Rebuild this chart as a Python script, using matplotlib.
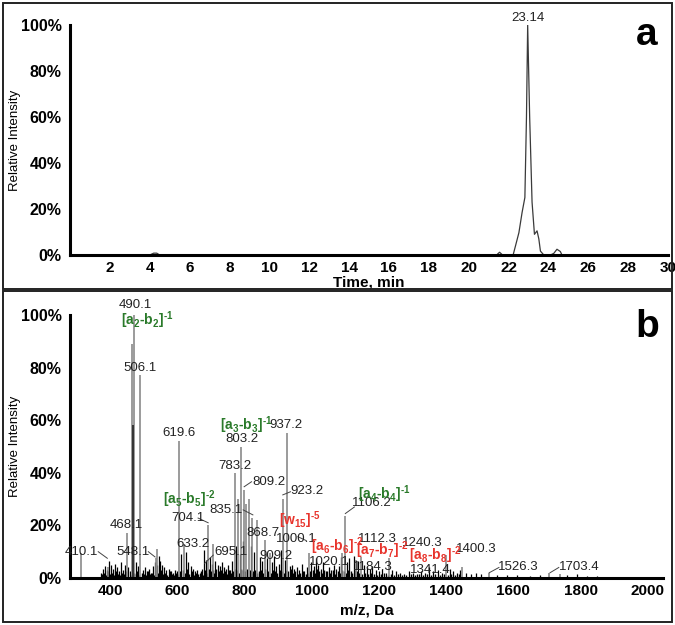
import matplotlib.pyplot as plt
from matplotlib.patches import Rectangle

plt.rcParams["font.family"] = ["Liberation Sans", "DejaVu Sans"]
plt.rcParams["mathtext.fontset"] = "custom"
plt.rcParams["mathtext.rm"] = "Liberation Sans"
plt.rcParams["mathtext.bf"] = "Liberation Sans:bold"
plt.rcParams["mathtext.it"] = "Liberation Sans:italic"
plt.rcParams["mathtext.default"] = "bf"

# ---- panel a: chromatogram ----
time_min = [0, 4.0, 4.2, 4.35, 4.5, 21.4, 21.55, 21.7, 22.23, 22.35, 22.52, 22.68,
            22.82, 22.9, 22.96, 23.06, 23.18, 23.3, 23.43, 23.52, 23.6, 23.77,
            24.1, 24.27, 24.43, 24.6, 24.68, 30]
rel_int = [0, 0, 0.8, 0.8, 0, 0, 1.2, 0, 0, 4, 9.7, 18.5,
           25, 60, 100, 60, 23, 9, 10.5, 7, 1.7, 0,
           0, 0.7, 2.5, 1.5, 0, 0]
apex_time = 22.96
apex_label = "23.14"
time_ticks = list(range(2, 31, 2))

# ---- panel b: MS/MS spectrum ----
major_mz = [314, 393, 452, 464, 472, 490, 536, 541, 605, 620, 692, 707, 771, 781,
            791, 799, 806, 813, 823, 838, 860, 875, 914, 927, 993, 1091, 1098,
            1132, 1147, 1231, 1399, 1448, 1528, 1706, 1740]
major_pct = [9.5, 4, 17, 89, 100, 77, 7.6, 11, 52, 13, 20, 13, 40, 30,
             50, 33.5, 28, 30, 23, 22, 14.5, 9.5, 30, 55, 9.5, 9.5, 23.6,
             7, 8, 7.6, 8.7, 4.3, 2, 2, 1.5]
dark_mz = [467]
dark_pct = [58]

minor_mz = [372, 380, 386, 391, 398, 404, 409, 415, 421, 426,
            433, 440, 446, 455, 459, 478, 483, 497, 503, 510,
            516, 522, 528, 533, 540, 545, 550, 556, 562, 568,
            575, 582, 588, 594, 600, 612, 626, 632, 640, 646,
            652, 660, 667, 674, 680, 686, 697, 702, 713, 720,
            726, 733, 740, 746, 752, 758, 764, 776, 786, 795,
            818, 829, 845, 852, 866, 881, 888, 895, 902, 908,
            920, 934, 941, 948, 955, 962, 970, 978, 986, 999,
            1006, 1012, 1020, 1027, 1034, 1042, 1050, 1058, 1066, 1073,
            1080, 1086, 1104, 1112, 1126, 1138, 1155, 1163, 1172, 1180,
            1190, 1200, 1210, 1220, 1240, 1250, 1262, 1275, 1288, 1300,
            1312, 1325, 1338, 1350, 1362, 1375, 1388, 1410, 1420, 1432,
            1440, 1460, 1475, 1490, 1505, 1550, 1580, 1610, 1650, 1680,
            1760, 1790, 1820, 1850]
minor_pct = [2.0, 3.5, 4.5, 3.0, 6.5, 5.0, 3.5, 5.5, 4.0, 2.5,
             6.0, 3.0, 5.0, 4.0, 2.5, 6.0, 4.5, 3.0, 4.0, 2.5,
             3.5, 2.0, 4.5, 6.0, 5.0, 8.5, 6.5, 5.0, 4.0, 3.0,
             3.5, 2.5, 2.0, 3.0, 2.5, 9.0, 10.0, 6.0, 4.5, 3.5,
             2.5, 3.0, 2.0, 3.5, 10.5, 7.0, 8.0, 5.5, 6.5, 5.0,
             4.5, 6.0, 4.0, 3.5, 5.0, 3.0, 6.5, 12.0, 9.0, 14.0,
             12.0, 10.0, 8.0, 6.5, 7.5, 6.0, 8.5, 4.5, 5.5, 10.5,
             7.0, 4.5, 5.0, 3.5, 4.0, 3.0, 5.5, 2.5, 4.0, 6.0,
             4.5, 7.5, 5.0, 3.5, 6.0, 2.5, 4.0, 3.0, 5.0, 3.5,
             4.5, 8.0, 6.0, 7.5, 8.5, 6.5, 5.0, 4.0, 3.5, 4.5,
             3.0, 2.5, 3.5, 2.0, 3.0, 2.5, 2.0, 1.5, 2.5, 2.0,
             1.5, 2.5, 2.0, 4.0, 2.5, 3.0, 2.0, 3.5, 2.5, 2.0,
             3.0, 2.0, 1.5, 2.0, 1.5, 1.0, 1.2, 1.0, 0.8, 1.0,
             1.0, 1.5, 0.8, 0.6]
# low baseline "grass" between the resolved peaks
grass_mz = [376, 383, 389, 395, 401, 407, 412, 418, 424, 430, 437, 443, 449, 462,
            470, 476, 481, 486, 494, 500, 506, 513, 519, 525, 531, 537, 543, 548,
            553, 559, 565, 571, 578, 585, 591, 597, 603, 609, 616, 623, 629, 636,
            643, 649, 656, 663, 670, 677, 683, 689, 695, 700, 705, 710, 716, 723,
            729, 736, 743, 749, 755, 761, 767, 773, 779, 784, 789, 797, 802, 809,
            816, 821, 826, 832, 836, 842, 848, 855, 862, 870, 878, 884, 891, 898,
            905, 911, 917, 924, 930, 937, 944, 951, 958, 966, 974, 982, 990, 996,
            1003, 1009, 1016, 1023, 1030, 1038, 1046, 1054, 1062, 1070, 1077, 1083,
            1089, 1095, 1101, 1108, 1116, 1121, 1130, 1135, 1142, 1150, 1158, 1168,
            1176, 1185, 1195, 1205, 1215, 1226, 1235, 1245, 1256, 1268, 1281, 1294,
            1306, 1318, 1331, 1344, 1356, 1368, 1381, 1394, 1404, 1415, 1426, 1437]
grass_pct = [1.5, 2.0, 1.0, 2.5, 1.5, 2.0, 1.0, 2.5, 1.5, 1.0, 2.0, 1.5, 2.5, 1.0,
             2.0, 1.5, 2.5, 1.0, 2.0, 1.5, 1.0, 2.5, 1.5, 2.0, 1.0, 3.0, 2.0, 2.5,
             3.0, 1.5, 2.0, 1.0, 2.5, 1.5, 1.0, 2.0, 1.5, 2.5, 3.0, 2.0, 3.5, 1.5,
             2.5, 1.0, 2.0, 1.5, 2.5, 1.0, 3.0, 2.0, 3.5, 2.5, 3.0, 2.0, 3.5, 2.5,
             3.0, 2.0, 2.5, 1.5, 3.0, 2.0, 2.5, 3.5, 3.0, 2.0, 3.5, 3.0, 2.5, 3.5,
             3.0, 2.0, 2.5, 3.0, 2.0, 2.5, 3.0, 2.0, 3.5, 2.5, 2.0, 3.0, 2.5, 2.0,
             3.0, 2.5, 2.0, 3.0, 2.5, 3.5, 2.0, 2.5, 1.5, 2.0, 2.5, 1.5, 2.0, 2.5,
             3.0, 2.0, 3.5, 2.5, 2.0, 3.0, 2.5, 2.0, 3.0, 1.5, 2.5, 2.0,
             3.0, 2.5, 2.0, 3.0, 2.5, 2.0, 3.0, 2.5, 2.0, 1.5, 2.0, 1.5,
             2.0, 1.5, 1.0, 1.5, 2.0, 1.0, 1.5, 1.0, 1.5, 1.0, 1.0, 1.5,
             1.0, 1.5, 1.0, 1.5, 1.0, 1.5, 1.0, 1.5, 1.0, 1.5, 1.0, 1.5]
mz_ticks = list(range(400, 2001, 200))

# peak value labels (text, x, y in data units)
num_text = ["490.1", "506.1", "619.6", "937.2", "803.2", "783.2", "809.2", "923.2",
            "835.1", "704.1", "468.1", "868.7", "1000.1", "633.2", "410.1", "548.1",
            "695.1", "909.2", "1020.1", "1106.2", "1112.3", "1184.3", "1240.3",
            "1341.4", "1400.3", "1526.3", "1703.4"]
num_x = [474, 489, 605, 924, 791, 771, 873, 985,
         746, 632, 450, 855, 954, 647, 316, 468,
         761, 895, 1053, 1180, 1196, 1181, 1330,
         1353, 1489, 1614, 1795]
num_y = [103.8, 80, 55, 58, 53, 42.7, 36.5, 33,
         26, 23, 20, 17, 15, 13, 10, 10,
         10, 8.5, 6, 28.5, 15, 4.3, 13.2,
         3, 11, 4.3, 4.3]

HY = "\u2010"
ion_text = [f"[a$_2$-b$_2$]$^{{{HY}1}}$", f"[a$_3$-b$_3$]$^{{{HY}1}}$",
            f"[a$_5$-b$_5$]$^{{{HY}2}}$", f"[a$_4$-b$_4$]$^{{{HY}1}}$",
            f"[w$_{{15}}$]$^{{{HY}5}}$", f"[a$_6$-b$_6$]$^{{{HY}2}}$",
            f"[a$_7$-b$_7$]$^{{{HY}2}}$", f"[a$_8$-b$_8$]$^{{{HY}2}}$"]
ion_x = [512, 805, 635, 1215, 966, 1075, 1210, 1368]
ion_y = [98, 58, 30, 32, 22, 12, 10.6, 8.7]
ion_color = ["#2a7a2a", "#2a7a2a", "#2a7a2a", "#2a7a2a",
             "#e8342c", "#e8342c", "#e8342c", "#e8342c"]

leaders = [((365, 392), (10, 7.5)), ((514, 534), (10, 8)), ((662, 692), (22.8, 21)),
           ((707, 682), (8.7, 5.6)), ((821, 799), (36.6, 34.7)), ((796, 825), (25.9, 24)),
           ((937, 914), (32.8, 31.6)), ((959, 984), (15.7, 14.2)), ((1127, 1100), (27, 24.5)),
           ((1557, 1528), (4, 2)), ((1735, 1709), (4, 2))]

fig = plt.figure(figsize=(6.75, 6.25), dpi=100)
W, H = 675.0, 625.0

# panel frames
for y0, y1 in [(3, 289), (291, 622)]:
    fig.add_artist(Rectangle((3 / W, 1 - y1 / H), 669 / W, (y1 - y0) / H,
                             transform=fig.transFigure, fill=False,
                             edgecolor="#222222", lw=1.4))


def style_axis(ax):
    for s in ["top", "right"]:
        ax.spines[s].set_visible(False)
    for s in ["left", "bottom"]:
        ax.spines[s].set_linewidth(2.2)
        ax.spines[s].set_color("black")
    ax.tick_params(length=0)
    ax.tick_params(axis="y", pad=6, labelsize=11.5)
    ax.tick_params(axis="x", pad=4, labelsize=11)
    ax.set_ylim(0, 100)
    ax.set_yticks([0, 20, 40, 60, 80, 100])
    ax.set_yticklabels([f"{v}%" for v in [0, 20, 40, 60, 80, 100]], fontweight="bold")
    ax.yaxis.label.set_verticalalignment("center")


# ---- panel a ----
ax_a = fig.add_axes([70 / W, 1 - 255 / H, (668 - 70) / W, 230 / H])
ax_a.plot(time_min, rel_int, color="#3a3a3a", lw=0.9)
ax_a.set_xlim(0, 30)
ax_a.set_xticks(time_ticks)
ax_a.set_xticklabels([str(t) for t in time_ticks], fontweight="bold")
style_axis(ax_a)
ax_a.text(apex_time, 100.5, apex_label, ha="center", va="bottom", fontsize=9.5, color="#222222",
          clip_on=False)
ax_a.set_xlabel("Time, min", fontsize=11, fontweight="bold", labelpad=1)
ax_a.set_ylabel("Relative Intensity", fontsize=9.5)
ax_a.yaxis.set_label_coords(-55 / 598, 0.5)
fig.text(647 / W, 1 - 45 / H, "a", fontsize=28, fontweight="bold", ha="center", va="baseline")

# ---- panel b ----
ax_b = fig.add_axes([70 / W, 1 - 578 / H, (663 - 70) / W, 263 / H])
ax_b.vlines(grass_mz, 0, grass_pct, color="black", lw=1.0)
ax_b.vlines(minor_mz, 0, minor_pct, color="black", lw=0.9)
ax_b.vlines(major_mz, 0, major_pct, color="#8a8a8a", lw=1.2)
ax_b.vlines(dark_mz, 0, dark_pct, color="#222222", lw=1.2)
ax_b.set_xlim(281, 2045)
ax_b.set_xticks(mz_ticks)
ax_b.set_xticklabels([str(t) for t in mz_ticks], fontweight="bold")
style_axis(ax_b)
for t, x, y in zip(num_text, num_x, num_y):
    ax_b.text(x, y, t, ha="center", va="center", fontsize=9.5, color="#222222", clip_on=False)
for t, x, y, c in zip(ion_text, ion_x, ion_y, ion_color):
    ax_b.text(x, y, t, ha="center", va="center", fontsize=10, fontweight="bold", color=c,
              clip_on=False)
for xs, ys in leaders:
    ax_b.plot(xs, ys, color="#444444", lw=0.7)
ax_b.set_xlabel("m/z, Da", fontsize=11, fontweight="bold", labelpad=4)
ax_b.set_ylabel("Relative Intensity", fontsize=9.5)
ax_b.yaxis.set_label_coords(-55 / 593, 0.5)
fig.text(647 / W, 1 - 337 / H, "b", fontsize=28, fontweight="bold", ha="center", va="baseline")

fig.savefig("out.png", dpi=100)
